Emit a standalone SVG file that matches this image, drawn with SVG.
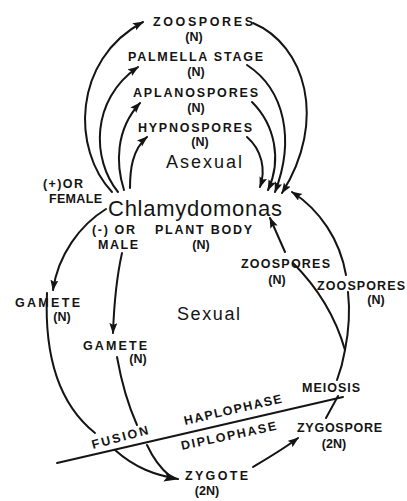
<svg xmlns="http://www.w3.org/2000/svg" width="407" height="501" viewBox="0 0 407 501">
<style>
.lbl{font-family:"Liberation Sans",Arial,sans-serif;font-weight:bold;font-size:12.5px;fill:#141414}
.big{font-family:"Liberation Sans",Arial,sans-serif;font-size:18px;fill:#141414}
.huge{font-family:"Liberation Sans",Arial,sans-serif;font-size:22px;fill:#141414}
.c{fill:none;stroke:#141414;stroke-width:2;stroke-linecap:round}
.a{marker-end:url(#ah)}
</style>
<defs>
<marker id="ah" markerUnits="userSpaceOnUse" markerWidth="12" markerHeight="10" refX="10" refY="4" orient="auto">
<path d="M0,0 L11,4 L0,8 L2,4 z" fill="#141414"/>
</marker>
<marker id="ahb" markerUnits="userSpaceOnUse" markerWidth="16" markerHeight="12" refX="14" refY="5" orient="auto">
<path d="M0,0 L15,5 L0,10 L3,5 z" fill="#141414"/>
</marker>
</defs>
<rect width="407" height="501" fill="#ffffff"/>
<g id="connectors">
<path class="c a" d="M112,192 C72,150 72,60 143,22"/>
<path class="c a" d="M118,192 C92,160 90,100 138,67"/>
<path class="c a" d="M124,190 C116,165 115,130 140,103"/>
<path class="c a" d="M130,188 C130,170 132,150 147,137"/>
<path class="c a" d="M253,23 C305,45 328,120 282,193"/>
<path class="c a" d="M247,65 C285,90 295,140 275,192"/>
<path class="c a" d="M252,102 C275,125 282,160 268,190"/>
<path class="c a" d="M247,137 C262,150 266,170 260,187"/>
<path class="c a" d="M285,252 L270,218"/>
<path class="c a" d="M346,275 C340,240 320,210 292,192"/>
<path class="c" d="M293,263 C315,285 335,315 345,350"/>
<path class="c" d="M348,292 C350,310 349,330 345,350"/>
<path class="c" d="M345,350 C343,362 340,372 337,380"/>
<path class="c" d="M338,396 L326,418"/>
<path class="c" d="M57,463 L343,397"/>
<path class="c a" d="M106,209 C80,225 58,255 53,290"/>
<path class="c a" d="M122,253 C116,280 114,305 113,333"/>
<path class="c" d="M47,293 C44,360 60,405 95,433"/>
<path class="c" d="M117,357 C122,385 128,405 137,425"/>
<path class="c" d="M115,450 C135,468 155,475 178,479" marker-end="url(#ahb)"/>
<path class="c" d="M147,445 C153,458 160,468 170,476"/>
<path class="c a" d="M253,467 C268,458 285,448 298,438"/>
</g>
<g id="zoospores-top"><text class="lbl" x="153" y="26" textLength="100" lengthAdjust="spacing">ZOOSPORES</text><text class="lbl" x="194" y="41" text-anchor="middle">(N)</text></g>
<g id="palmella"><text class="lbl" x="128" y="61" textLength="135" lengthAdjust="spacing">PALMELLA STAGE</text><text class="lbl" x="196" y="76" text-anchor="middle">(N)</text></g>
<g id="aplanospores"><text class="lbl" x="133" y="97" textLength="125" lengthAdjust="spacing">APLANOSPORES</text><text class="lbl" x="196" y="112" text-anchor="middle">(N)</text></g>
<g id="hypnospores"><text class="lbl" x="138" y="132" textLength="114" lengthAdjust="spacing">HYPNOSPORES</text><text class="lbl" x="200" y="146" text-anchor="middle">(N)</text></g>
<g id="asexual"><text class="big" x="166" y="168" textLength="76" lengthAdjust="spacing">Asexual</text></g>
<g id="female"><text class="lbl" x="43" y="188" textLength="40" lengthAdjust="spacing">(+)OR</text><text class="lbl" x="49" y="203" textLength="53" lengthAdjust="spacing">FEMALE</text></g>
<g id="chlamydomonas"><text class="huge" x="108" y="216" textLength="174" lengthAdjust="spacing">Chlamydomonas</text></g>
<g id="male"><text class="lbl" x="92" y="234" textLength="43" lengthAdjust="spacing">(-) OR</text><text class="lbl" x="98" y="249" textLength="40" lengthAdjust="spacing">MALE</text></g>
<g id="plant-body"><text class="lbl" x="155" y="234" textLength="97" lengthAdjust="spacing">PLANT BODY</text><text class="lbl" x="201" y="249" text-anchor="middle">(N)</text></g>
<g id="zoospores-mid"><text class="lbl" x="241" y="268" textLength="89" lengthAdjust="spacing">ZOOSPORES</text><text class="lbl" x="277" y="284" text-anchor="middle">(N)</text></g>
<g id="zoospores-right"><text class="lbl" x="317" y="290" textLength="88" lengthAdjust="spacing">ZOOSPORES</text><text class="lbl" x="376" y="304" text-anchor="middle">(N)</text></g>
<g id="gamete-left"><text class="lbl" x="15" y="307" textLength="65" lengthAdjust="spacing">GAMETE</text><text class="lbl" x="62" y="321" text-anchor="middle">(N)</text></g>
<g id="sexual"><text class="big" x="177" y="320" textLength="63" lengthAdjust="spacing">Sexual</text></g>
<g id="gamete-mid"><text class="lbl" x="83" y="350" textLength="64" lengthAdjust="spacing">GAMETE</text><text class="lbl" x="138" y="363" text-anchor="middle">(N)</text></g>
<g id="meiosis"><text class="lbl" x="302" y="392" textLength="58" lengthAdjust="spacing">MEIOSIS</text></g>
<g id="haplophase"><text class="lbl" transform="translate(185,425) rotate(-13)" x="0" y="0" textLength="100" lengthAdjust="spacing">HAPLOPHASE</text></g>
<g id="diplophase"><text class="lbl" transform="translate(182,450) rotate(-12)" x="0" y="0" textLength="97" lengthAdjust="spacing">DIPLOPHASE</text></g>
<g id="fusion"><text class="lbl" transform="translate(93,449) rotate(-15)" x="0" y="0" textLength="58" lengthAdjust="spacing">FUSION</text></g>
<g id="zygospore"><text class="lbl" x="297" y="432" textLength="85" lengthAdjust="spacing">ZYGOSPORE</text><text class="lbl" x="334" y="448" text-anchor="middle">(2N)</text></g>
<g id="zygote"><text class="lbl" x="185" y="480" textLength="63" lengthAdjust="spacing">ZYGOTE</text><text class="lbl" x="207" y="495" text-anchor="middle">(2N)</text></g>
</svg>
